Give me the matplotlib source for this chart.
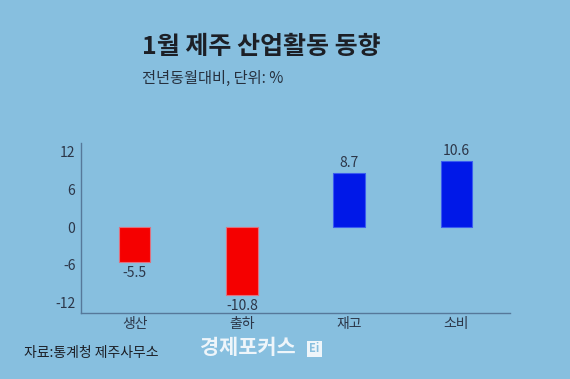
import matplotlib
matplotlib.use("Agg")
import matplotlib.pyplot as plt
from matplotlib.patches import Rectangle

plt.rcParams['font.family'] = ['Noto Sans CJK KR', 'DejaVu Sans']

categories = ['생산', '출하', '재고', '소비']
values = [-5.5, -10.8, 8.7, 10.6]
value_labels = ['-5.5', '-10.8', '8.7', '10.6']
yticks = [-12, -6, 0, 6, 12]
ytick_labels = ['-12', '-6', '0', '6', '12']

bg = '#87bfdf'
text_col = '#2c3648'
face_cols = ['#f50000' if v < 0 else '#0018e8' for v in values]
edge_cols = ['#e0707f' if v < 0 else '#3a5cf0' for v in values]

fig = plt.figure(figsize=(5.7, 3.79), dpi=100, facecolor=bg)
ax = fig.add_axes([0.1421, 0.1752, 0.7526, 0.4475])
ax.set_facecolor(bg)

x = list(range(len(categories)))
ax.bar(x, values, width=0.295, color=face_cols, edgecolor=edge_cols, linewidth=0.8)

for xi, v, lab in zip(x, values, value_labels):
    if v < 0:
        ax.annotate(lab, (xi, v), xytext=(0, -3), textcoords='offset points',
                    ha='center', va='top', fontsize=10, color=text_col)
    else:
        ax.annotate(lab, (xi, v), xytext=(0, 2), textcoords='offset points',
                    ha='center', va='bottom', fontsize=10, color=text_col)

ax.set_xlim(-0.5, 3.5)
ax.set_ylim(-13.6, 13.4)
ax.set_yticks(yticks)
ax.set_yticklabels(ytick_labels)
ax.set_xticks(x)
ax.set_xticklabels(categories)
ax.tick_params(axis='both', length=0, labelsize=10, colors=text_col)
ax.tick_params(axis='y', pad=4)
ax.tick_params(axis='x', pad=3)
for s in ['top', 'right']:
    ax.spines[s].set_visible(False)
for s in ['left', 'bottom']:
    ax.spines[s].set_color('#56789a')
    ax.spines[s].set_linewidth(1.0)

fig.text(142/570, 1 - 47/379, '1월 제주 산업활동 동향', fontsize=18, fontweight='bold',
         color='#1c1f26', ha='left', va='center')
fig.text(142/570, 1 - 78/379, '전년동월대비, 단위: %', fontsize=11,
         color='#26303e', ha='left', va='center')
fig.text(24/570, 1 - 353/379, '자료:통계청 제주사무소', fontsize=10,
         color='#1c1f26', ha='left', va='center')
fig.text(200/570, 1 - 348/379, '경제포커스', fontsize=15, fontweight='bold',
         color='#eef5fa', ha='left', va='center')
fig.patches.append(Rectangle((307/570, 1 - 357/379), 15/570, 16/379,
                             transform=fig.transFigure, facecolor='#eef5fa',
                             edgecolor='none'))
fig.text(314.5/570, 1 - 349/379, 'Ei', fontsize=8, fontweight='bold',
         color=bg, ha='center', va='center')

fig.savefig('out.png', dpi=100, facecolor=bg)
